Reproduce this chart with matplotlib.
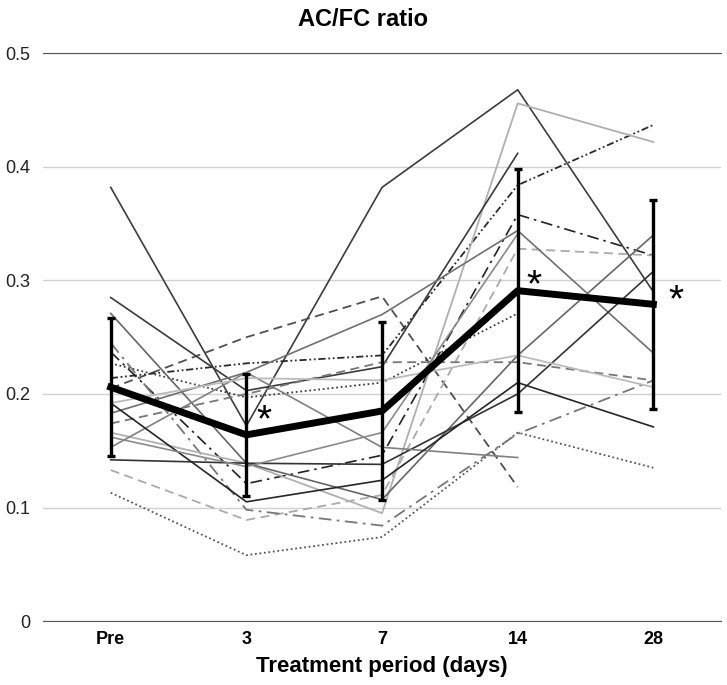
import numpy as np
import matplotlib
matplotlib.use("Agg")
from matplotlib import pyplot as plt

plt.rcParams['font.family'] = ['Liberation Sans Narrow', 'Liberation Sans', 'DejaVu Sans']

categories = ['Pre', '3', '7', '14', '28']
y_ticks = [0, 0.1, 0.2, 0.3, 0.4, 0.5]
y_tick_labels = ['0', '0.1', '0.2', '0.3', '0.4', '0.5']

# individual subjects (nan = missing)
nan = np.nan
s1 = [0.382, 0.172, 0.382, 0.468, 0.290]
s2 = [0.205, 0.250, 0.286, 0.118, nan]
s3 = [0.214, 0.227, 0.234, 0.384, 0.437]
s4 = [0.227, 0.197, 0.210, 0.271, nan]
s5 = [0.237, 0.121, 0.146, 0.358, 0.322]
s6 = [0.133, 0.089, 0.111, 0.328, 0.322]
s7 = [0.113, 0.058, 0.074, 0.166, 0.135]
s8 = [0.245, 0.098, 0.084, 0.165, 0.212]
s9 = [0.166, 0.139, 0.095, 0.456, 0.422]
s10 = [0.285, 0.203, 0.224, 0.412, nan]
s11 = [0.271, 0.139, 0.107, 0.234, 0.340]
s12 = [0.183, 0.219, 0.270, 0.344, 0.236]
s13 = [0.142, 0.139, 0.138, 0.200, 0.308]
s14 = [0.153, 0.219, 0.153, 0.144, nan]
s15 = [0.174, 0.200, 0.228, 0.228, 0.212]
s16 = [0.192, 0.105, 0.124, 0.210, 0.171]
s17 = [0.192, 0.214, 0.212, 0.234, 0.206]
s18 = [0.162, 0.136, 0.166, 0.341, nan]

mean = [0.206, 0.164, 0.185, 0.291, 0.279]
sd = [0.061, 0.054, 0.078, 0.107, 0.092]
star_at = [1, 3, 4]

# (series, colour, linestyle, width)
subjects = [
    (s1, '#3c3c3c', '-', 1.2),
    (s2, '#505050', (0, (5, 3)), 1.3),
    (s3, '#2a2a2a', (0, (4, 1.5, 1, 1.5, 1, 1.5)), 1.3),
    (s4, '#404040', (0, (1, 1.5)), 1.3),
    (s5, '#222222', (0, (7, 3, 1.5, 3)), 1.2),
    (s6, '#aaaaaa', (0, (5, 3)), 1.3),
    (s7, '#555555', (0, (1, 1.5)), 1.3),
    (s8, '#777777', (0, (7, 3, 1.5, 3)), 1.3),
    (s9, '#b0b0b0', '-', 1.3),
    (s10, '#3a3a3a', '-', 1.2),
    (s11, '#666666', '-', 1.2),
    (s12, '#707070', '-', 1.2),
    (s13, '#333333', '-', 1.2),
    (s14, '#808080', '-', 1.2),
    (s15, '#777777', (0, (5, 3)), 1.3),
    (s16, '#262626', '-', 1.2),
    (s17, '#bbbbbb', '-', 1.3),
    (s18, '#8a8a8a', '-', 1.2),
]

fig = plt.figure(figsize=(7.27, 6.85), dpi=100)
ax = fig.add_axes([0.059, 0.0934, 0.933, 0.8286])

x = np.arange(len(categories))
for vals, col, ls, lw in subjects:
    ax.plot(x, vals, color=col, linestyle=ls, linewidth=lw, zorder=2)

ax.errorbar(x, mean, yerr=sd, color='black', linewidth=5, elinewidth=2.4,
            capsize=3, capthick=2.4, zorder=4)

# star position tweaks (x offset, y offset) per marked point
star_dx = {1: 0.13, 3: 0.12, 4: 0.17}
star_dy = {1: 0.012, 3: 0.004, 4: 0.003}
for i in star_at:
    ax.text(x[i] + star_dx[i], mean[i] + star_dy[i], '*',
            fontsize=28, ha='center', va='center', zorder=5)

ax.set_xlim(-0.5, 4.5)
ax.set_ylim(0, 0.5)
ax.set_yticks(y_ticks)
ax.set_yticklabels(y_tick_labels, fontsize=13, color='#222222')
ax.set_xticks(x)
ax.set_xticklabels(categories, fontsize=13, fontweight='bold')
ax.tick_params(axis='both', length=0)
ax.tick_params(axis='y', pad=9)
ax.tick_params(axis='x', pad=7)
ax.grid(axis='y', color='#d0d0d0', linewidth=1, zorder=0)
ax.set_axisbelow(True)
for side in ['left', 'right']:
    ax.spines[side].set_visible(False)
ax.spines['top'].set_color('#555555')
ax.spines['bottom'].set_color('#555555')

ax.set_xlabel('Treatment period (days)', fontsize=16, fontweight='bold', labelpad=6)
fig.suptitle('AC/FC ratio', fontsize=17, fontweight='bold', y=0.988)

fig.savefig('out.png', dpi=100)
